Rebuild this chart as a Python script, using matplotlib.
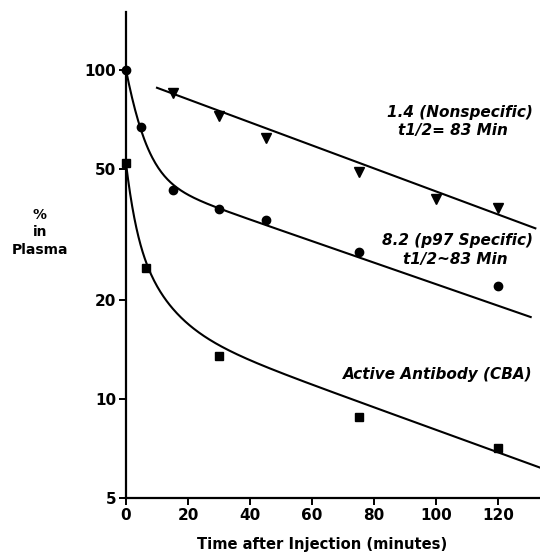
import numpy as np
import matplotlib
matplotlib.use('Agg')
import matplotlib.pyplot as plt

plt.rcParams['font.family'] = ['DejaVu Sans']

# measured points (minutes, % in plasma)
t_nonspec = [15, 30, 45, 75, 100, 120]
v_nonspec = [85, 72.5, 62, 49, 40.5, 38]

t_p97 = [0, 5, 15, 30, 45, 75, 120]
v_p97 = [100, 67, 43, 37.8, 35, 28, 22]

t_cba = [0, 6.5, 30, 75, 120]
v_cba = [52, 25, 13.5, 8.8, 7.1]

xticks = [0, 20, 40, 60, 80, 100, 120]
yticks = [5, 10, 20, 50, 100]

# fitted curves (exponential models)
t_line = np.linspace(10, 132, 100)
y_nonspec = 88.2 * 0.5 ** ((t_line - 10) / 86)

t_fit = np.linspace(0, 130.5, 400)
y_p97 = 47.4 * np.exp(-np.log(2) / 92 * t_fit) + 52.6 * np.exp(-0.2 * t_fit)

t_fit2 = np.linspace(0, 134, 400)
y_cba = (17.7 * np.exp(-np.log(2) / 88 * t_fit2)
         + 16.0 * np.exp(-0.11 * t_fit2)
         + 18.3 * np.exp(-0.4 * t_fit2))

fig = plt.figure(figsize=(5.4, 5.53), dpi=100)
ax = fig.add_axes([0.2333, 0.0995, 0.7667, 0.879])

ax.plot(t_line, y_nonspec, color='black', lw=1.5)
ax.plot(t_fit, y_p97, color='black', lw=1.5)
ax.plot(t_fit2, y_cba, color='black', lw=1.5, clip_on=False)

ax.plot(t_nonspec, v_nonspec, 'v', color='black', ms=7, clip_on=False)
ax.plot(t_p97, v_p97, 'o', color='black', ms=6, clip_on=False)
ax.plot(t_cba, v_cba, 's', color='black', ms=6, clip_on=False)

ax.set_yscale('log')
ax.set_xlim(0, 133.5)
ax.set_ylim(5, 150)
ax.set_yticks(yticks)
ax.set_yticklabels([str(v) for v in yticks])
ax.yaxis.set_minor_locator(matplotlib.ticker.NullLocator())
ax.set_xticks(xticks)

for s in ['top', 'right']:
    ax.spines[s].set_visible(False)
for s in ['left', 'bottom']:
    ax.spines[s].set_linewidth(1.6)

ax.tick_params(axis='both', direction='out', length=5, width=1.4, labelsize=11, pad=2)
for lab in ax.get_xticklabels() + ax.get_yticklabels():
    lab.set_fontweight('bold')

fig.text(322 / 540, 1 - 545 / 553, 'Time after Injection (minutes)', ha='center', va='center',
         fontsize=10.6, fontweight='bold')
fig.text(0.074, 0.58, '%\nin\nPlasma', ha='center', va='center', fontsize=10,
         fontweight='bold', linespacing=1.3)

lab_kw = dict(fontsize=11, fontweight='bold', style='italic', transform=fig.transFigure)
fig.text(460 / 540, 1 - 112 / 553, '1.4 (Nonspecific)', ha='center', va='center', **lab_kw)
fig.text(453 / 540, 1 - 131 / 553, 't1/2= 83 Min', ha='center', va='center', **lab_kw)
fig.text(457 / 540, 1 - 241 / 553, '8.2 (p97 Specific)', ha='center', va='center', **lab_kw)
fig.text(455 / 540, 1 - 259 / 553, 't1/2~83 Min', ha='center', va='center', **lab_kw)
fig.text(438 / 540, 1 - 374 / 553, 'Active Antibody (CBA)', ha='center', va='center', **lab_kw)

fig.savefig('out.png', dpi=100)
